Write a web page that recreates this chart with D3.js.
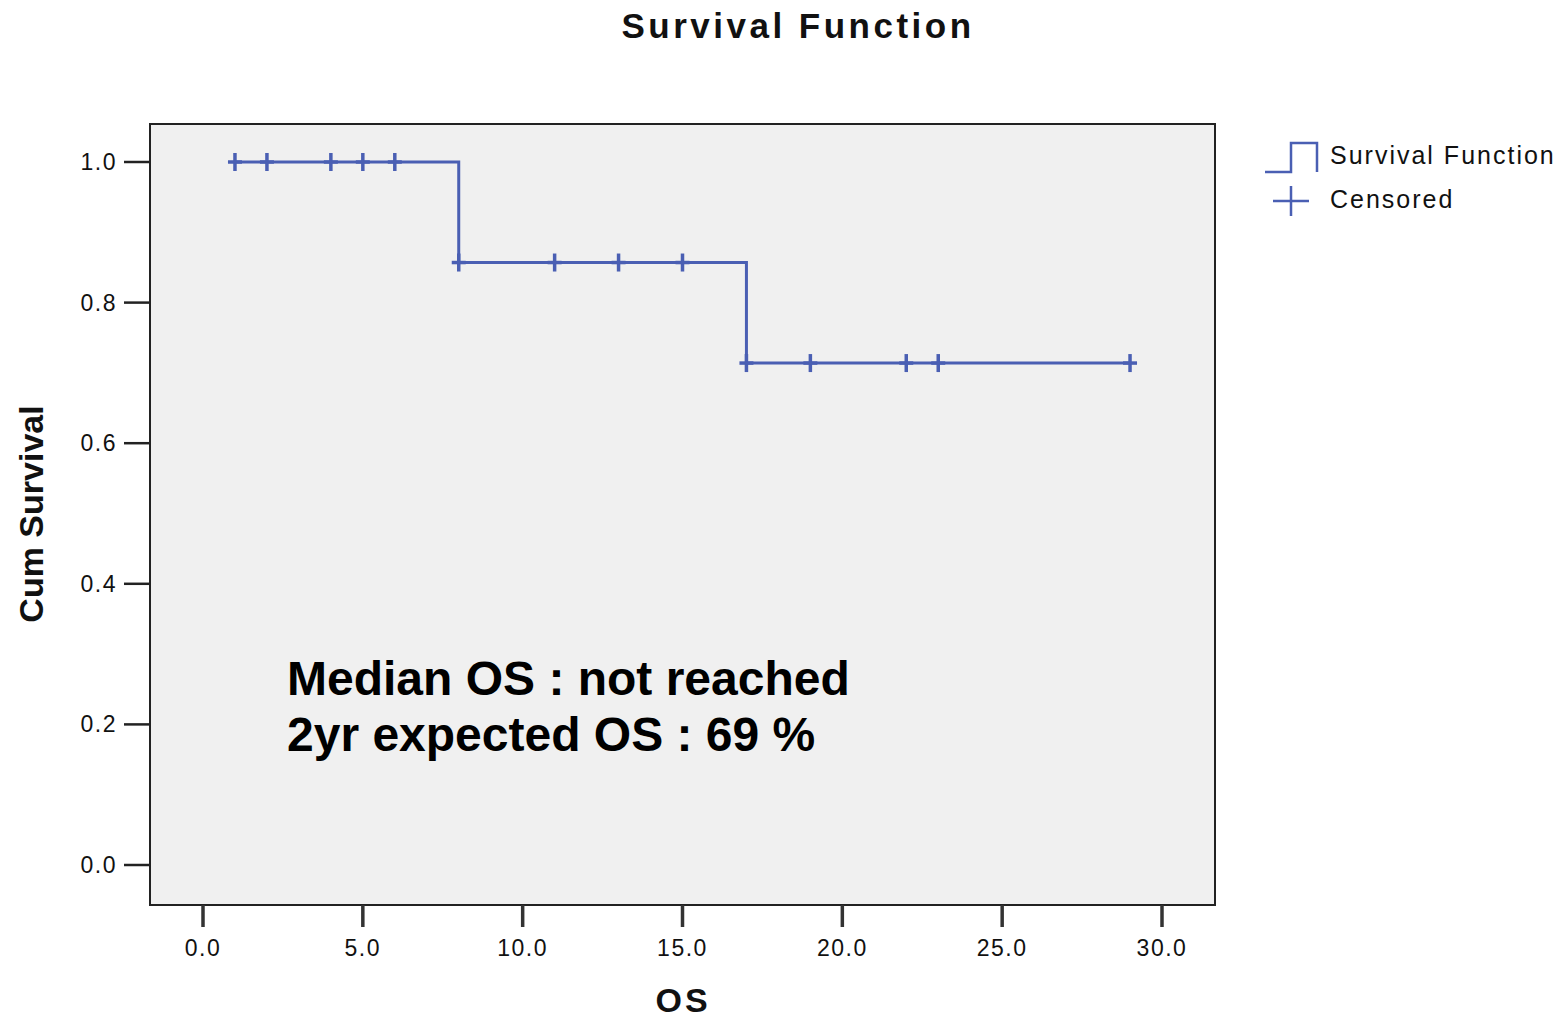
<!DOCTYPE html>
<html>
<head>
<meta charset="utf-8">
<script src="https://cdn.jsdelivr.net/npm/d3@7"></script>
<style>
  body { margin: 0; background: #fff; }
  svg { display: block; font-family: 'Liberation Sans', Arial, sans-serif; }
</style>
</head>
<body>
<div id="chart"></div>
<script>
// Kaplan-Meier step points (time, cumulative survival)
const stepTimes = [1, 8, 17, 29]
const stepSurv = [1.0, 0.857, 0.714, 0.714]

// censored observations
const censorTimes = [1, 2, 4, 5, 6, 8, 11, 13, 15, 17, 19, 22, 23, 29]
const censorSurv = [1, 1, 1, 1, 1, 0.857, 0.857, 0.857, 0.857, 0.714, 0.714, 0.714, 0.714, 0.714]

const xTicks = [0, 5, 10, 15, 20, 25, 30]
const yTicks = [0, 0.2, 0.4, 0.6, 0.8, 1.0]

const notes = ['Median OS : not reached', '2yr expected OS : 69 %']

const width = 1561
const height = 1018
const frame = { left: 150, right: 1215, top: 124, bottom: 905 }
const lineColor = '#4a5fb3'

const x = d3.scaleLinear().domain([0, 30]).range([203, 1162])
const y = d3.scaleLinear().domain([0, 1]).range([865, 162])

const svg = d3.select('#chart').append('svg')
  .attr('width', width)
  .attr('height', height)

svg.append('text')
  .attr('x', 798).attr('y', 38)
  .attr('text-anchor', 'middle')
  .attr('font-size', 35)
  .attr('letter-spacing', 3.5)
  .attr('fill', '#111')
  .style('font-weight', 'bold')
  .text('Survival Function')

// plot area
svg.append('rect')
  .attr('x', frame.left).attr('y', frame.top)
  .attr('width', frame.right - frame.left)
  .attr('height', frame.bottom - frame.top)
  .attr('fill', '#f0f0f0')
  .attr('stroke', '#222')
  .attr('stroke-width', 2)

// y axis
const yAxis = svg.append('g')
yAxis.selectAll('line').data(yTicks).join('line')
  .attr('x1', 124).attr('x2', frame.left)
  .attr('y1', d => y(d)).attr('y2', d => y(d))
  .attr('stroke', '#222').attr('stroke-width', 2.5)
yAxis.selectAll('text').data(yTicks).join('text')
  .attr('x', 117).attr('y', d => y(d))
  .attr('dy', '0.35em')
  .attr('text-anchor', 'end')
  .attr('font-size', 23)
  .attr('letter-spacing', 1.5)
  .attr('fill', '#111')
  .text(d => d3.format('.1f')(d))

// x axis
const xAxis = svg.append('g')
xAxis.selectAll('line').data(xTicks).join('line')
  .attr('x1', d => x(d)).attr('x2', d => x(d))
  .attr('y1', frame.bottom).attr('y2', 927)
  .attr('stroke', '#333').attr('stroke-width', 3.5)
xAxis.selectAll('text').data(xTicks).join('text')
  .attr('x', d => x(d)).attr('y', 948)
  .attr('dy', '0.35em')
  .attr('text-anchor', 'middle')
  .attr('font-size', 23)
  .attr('letter-spacing', 1.5)
  .attr('fill', '#111')
  .text(d => d3.format('.1f')(d))

// axis titles
svg.append('text')
  .attr('transform', 'translate(43,514) rotate(-90)')
  .attr('text-anchor', 'middle')
  .attr('font-size', 34)
  .attr('font-weight', 'bold')
  .attr('fill', '#111')
  .text('Cum Survival')

svg.append('text')
  .attr('x', 683).attr('y', 1012)
  .attr('text-anchor', 'middle')
  .attr('font-size', 34)
  .attr('letter-spacing', 3)
  .attr('fill', '#111')
  .style('font-weight', 'bold')
  .text('OS')

// survival step line
const line = d3.line()
  .curve(d3.curveStepAfter)
  .x((d, i) => x(stepTimes[i]))
  .y((d, i) => y(stepSurv[i]))

svg.append('path')
  .datum(stepTimes)
  .attr('fill', 'none')
  .attr('stroke', lineColor)
  .attr('stroke-width', 3)
  .attr('d', line)

// censor marks
const cross = svg.append('g')
  .selectAll('g')
  .data(censorTimes)
  .join('g')
  .attr('transform', (d, i) => `translate(${x(d)},${y(censorSurv[i])})`)
cross.append('line')
  .attr('x1', 0).attr('x2', 0).attr('y1', -9).attr('y2', 9)
  .attr('stroke', lineColor).attr('stroke-width', 3.5)
cross.append('line')
  .attr('x1', -7).attr('x2', 7).attr('y1', 0).attr('y2', 0)
  .attr('stroke', lineColor).attr('stroke-width', 3.5)

// annotation
svg.append('g')
  .selectAll('text')
  .data(notes)
  .join('text')
  .attr('x', 287)
  .attr('y', (d, i) => 695 + i * 56)
  .attr('font-size', 48)
  .attr('font-weight', 'bold')
  .attr('fill', '#000')
  .text(d => d)

// legend
const legend = svg.append('g')
legend.append('path')
  .attr('d', 'M1265,172 H1291 V143 H1317 V172')
  .attr('fill', 'none')
  .attr('stroke', lineColor)
  .attr('stroke-width', 2.5)
legend.append('line')
  .attr('x1', 1273).attr('x2', 1309).attr('y1', 201).attr('y2', 201)
  .attr('stroke', lineColor).attr('stroke-width', 2.5)
legend.append('line')
  .attr('x1', 1291).attr('x2', 1291).attr('y1', 186).attr('y2', 216)
  .attr('stroke', lineColor).attr('stroke-width', 2.5)
legend.selectAll('text')
  .data(['Survival Function', 'Censored'])
  .join('text')
  .attr('x', 1330)
  .attr('y', (d, i) => 155 + i * 44)
  .attr('dy', '0.35em')
  .attr('font-size', 25)
  .attr('letter-spacing', 2)
  .attr('fill', '#111')
  .text(d => d)
</script>
</body>
</html>
